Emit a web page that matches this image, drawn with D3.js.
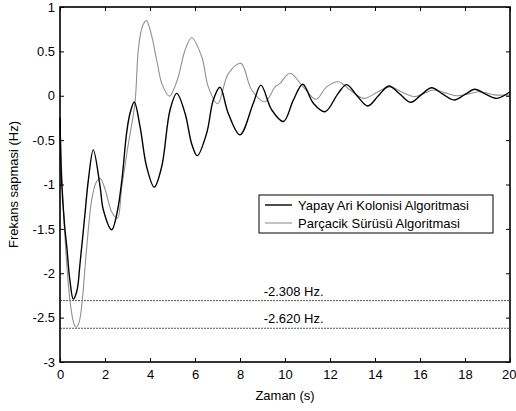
<!DOCTYPE html>
<html><head><meta charset="utf-8">
<script src="https://cdn.jsdelivr.net/npm/d3@7"></script>
<style>body{margin:0;background:#fff}svg{display:block}text{font-family:"Liberation Sans",Arial,sans-serif}</style>
</head><body><svg id="c" width="516" height="411"></svg>
<script>
const xTicks = [0,2,4,6,8,10,12,14,16,18,20];
const yTicks = [-3,-2.5,-2,-1.5,-1,-0.5,0,0.5,1];
const seriesNames = ["Yapay Ari Kolonisi Algoritmasi","Parçacik Sürüsü Algoritmasi"];
const refValues = [-2.308,-2.620];
const refLabels = ["-2.308 Hz.","-2.620 Hz."];

const abcT = [0,0.07,0.2,0.3,0.44,0.59,0.75,0.89,1.11,1.26,1.48,1.78,1.93,2.3,2.55,2.75,2.96,3.11,3.3,3.56,3.85,4.19,4.52,4.89,5.19,5.56,5.85,6.1,6.52,6.81,7.11,7.48,8.0,8.59,8.93,9.41,9.93,10.37,10.79,11.26,11.78,12.37,12.74,13.2,13.68,14.15,14.62,15.1,15.59,16.05,16.52,17.0,17.52,18.0,18.44,18.9,19.41,20];
const abcV = [-0.25,-0.95,-1.45,-1.7,-2.08,-2.29,-2.2,-1.89,-1.33,-0.95,-0.61,-1.02,-1.29,-1.51,-1.3,-0.95,-0.42,-0.2,-0.07,-0.35,-0.8,-1.03,-0.8,-0.16,0.027,-0.2,-0.54,-0.675,-0.42,-0.05,0.095,-0.2,-0.44,-0.085,0.12,-0.16,-0.29,-0.05,0.129,-0.085,-0.18,0.03,0.125,0.0,-0.115,0.0,0.11,0.02,-0.074,0.01,0.09,0.02,-0.048,0.015,0.073,0.02,-0.03,0.045];

const psoT = [0,0.1,0.3,0.44,0.6,0.72,0.85,0.96,1.19,1.41,1.6,1.78,2.0,2.3,2.55,2.75,3.0,3.33,3.48,3.66,3.84,4.05,4.3,4.55,4.87,5.04,5.26,5.56,5.85,6.3,6.59,7.01,7.48,8.04,8.52,9.11,9.56,9.78,10.22,10.81,11.38,11.85,12.37,12.89,13.5,14.1,14.67,15.2,15.78,16.2,16.6,17.1,17.63,18.15,18.67,19.3,20];
const psoV = [-0.25,-1.0,-1.9,-2.3,-2.55,-2.61,-2.55,-2.38,-1.7,-1.17,-0.98,-0.93,-1.05,-1.31,-1.38,-1.02,-0.6,-0.085,0.515,0.78,0.846,0.7,0.4,0.12,-0.005,0.065,0.215,0.515,0.654,0.44,0.1,-0.09,0.25,0.365,0.065,-0.067,0.1,0.14,0.253,0.1,-0.04,0.1,0.158,0.065,-0.03,0.04,0.1,0.04,-0.01,0.03,0.065,0.035,0.0,0.02,0.045,0.01,0.01];

const svg = d3.select("#c");
const L=60,R=510,T=7,B=362;
const x = d3.scaleLinear().domain([0,20]).range([L,R]);
const y = d3.scaleLinear().domain([-3,1]).range([B,T]);
const font = "13px";

// reference lines
refValues.forEach((v,i)=>{
  svg.append("line").attr("x1",x(0)).attr("x2",x(20)).attr("y1",y(v)).attr("y2",y(v))
    .attr("stroke","#555").attr("stroke-width",1).attr("stroke-dasharray","2,1");
  svg.append("text").attr("x",x(9.05)).attr("y",y(v)-5).attr("font-size",font).attr("fill","#000").text(refLabels[i]);
});

const line = d3.line().x(d=>x(d[0])).y(d=>y(d[1])).curve(d3.curveCatmullRom.alpha(0.5));
svg.append("path").datum(psoT.map((t,i)=>[t,psoV[i]])).attr("d",line)
  .attr("fill","none").attr("stroke","#909090").attr("stroke-width",1.1);
svg.append("path").datum(abcT.map((t,i)=>[t,abcV[i]])).attr("d",line)
  .attr("fill","none").attr("stroke","#000").attr("stroke-width",1.4);

// axes (ticks inward, all four sides)
const ax = (g,axis)=>{g.call(axis);g.select(".domain").remove();g.selectAll("line").attr("stroke","#000");g.selectAll("text").attr("font-size",font).attr("font-family","Liberation Sans, Arial, sans-serif").attr("fill","#000");};
svg.append("g").attr("transform",`translate(0,${B})`).call(g=>ax(g,d3.axisBottom(x).tickValues(xTicks).tickFormat(d3.format("d")).tickSizeInner(-4).tickSizeOuter(0).tickPadding(8)))
  .call(g=>g.selectAll(".tick").filter(d=>d===20).select("text").attr("text-anchor","end").attr("x",6));
svg.append("g").attr("transform",`translate(0,${T})`).call(g=>ax(g,d3.axisTop(x).tickValues(xTicks).tickFormat("").tickSizeInner(-4).tickSizeOuter(0)));
svg.append("g").attr("transform",`translate(${L},0)`).call(g=>ax(g,d3.axisLeft(y).tickValues(yTicks).tickFormat(d=>String(d)).tickSizeInner(-4).tickSizeOuter(0).tickPadding(5)));
svg.append("g").attr("transform",`translate(${R},0)`).call(g=>ax(g,d3.axisRight(y).tickValues(yTicks).tickFormat("").tickSizeInner(-4).tickSizeOuter(0)));
svg.append("rect").attr("x",L).attr("y",T).attr("width",R-L).attr("height",B-T)
  .attr("fill","none").attr("stroke","#000").attr("stroke-width",1.6);

// labels
svg.append("text").attr("x",(L+R)/2).attr("y",400).attr("text-anchor","middle").attr("font-size",font).text("Zaman (s)");
svg.append("text").attr("transform",`translate(18,${(T+B)/2}) rotate(-90)`).attr("text-anchor","middle").attr("font-size",font).text("Frekans sapmasi (Hz)");

// legend
const lg = svg.append("g");
lg.append("rect").attr("x",259).attr("y",195).attr("width",234).attr("height",38).attr("fill","#fff").attr("stroke","#000").attr("stroke-width",1);
const lcol=["#000","#909090"], lw=[1.4,1.1];
seriesNames.forEach((n,i)=>{
  const yy=205+i*18;
  lg.append("line").attr("x1",265).attr("x2",292).attr("y1",yy).attr("y2",yy).attr("stroke",lcol[i]).attr("stroke-width",lw[i]);
  lg.append("text").attr("x",298).attr("y",yy+4.5).attr("font-size",font).text(n);
});
</script></body></html>
